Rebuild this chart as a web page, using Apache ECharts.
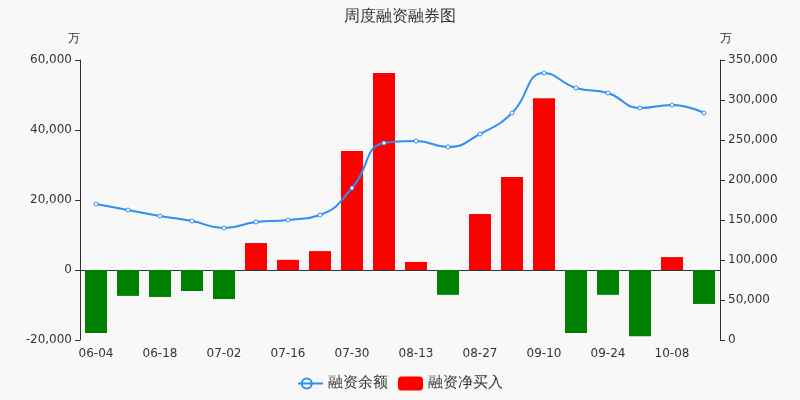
<!DOCTYPE html>
<html><head><meta charset="utf-8">
<script src="https://cdn.jsdelivr.net/npm/echarts@6/dist/echarts.min.js"></script>
<style>html,body{margin:0;background:#f8f8f8}#c{width:800px;height:400px}</style>
</head><body><div id="c"></div>
<script>
const categories=['06-04','06-11','06-18','06-25','07-02','07-09','07-16','07-23','07-30','08-06','08-13','08-20','08-27','09-03','09-10','09-17','09-24','10-01','10-08','10-15'];
const netBuy=[-18000,-7400,-7700,-6000,-8300,7700,2900,5400,34000,56300,2300,-7100,16000,26600,49100,-18000,-7100,-18900,3700,-9700];
const balance=[170000,162500,155000,148750,140000,147500,150000,156250,190000,246250,248750,241250,257500,283750,333750,315000,308750,290000,293750,283750];
const ch=echarts.init(document.getElementById('c'));
const f='"DejaVu Sans",sans-serif';
ch.setOption({
 backgroundColor:'#f8f8f8',
 textStyle:{fontFamily:f},
 title:{text:'周度融资融券图',left:'center',top:4,textStyle:{fontSize:16,fontWeight:'normal',color:'#333',fontFamily:f}},
 legend:{bottom:4,itemGap:10,textStyle:{fontSize:15,color:'#333'},data:[{name:'融资余额',icon:'path://M0,5L3,5A4,4 0 1 1 3,5.01ZM0,5L20,5',itemStyle:{color:'#fff',borderColor:'#2e8ff2'}},{name:'融资净买入',itemStyle:{color:'#f00'}}]},
 grid:{left:80,right:80,top:60,bottom:60},
 xAxis:{type:'category',data:categories,axisTick:{alignWithLabel:true},axisLine:{lineStyle:{color:'#333'}},axisLabel:{interval:1,color:'#333',fontSize:12}},
 yAxis:[{type:'value',name:'万',min:-20000,max:60000,interval:20000,nameTextStyle:{color:'#333',align:'right'},axisLine:{show:true,lineStyle:{color:'#333'}},axisTick:{show:true},splitLine:{show:false},axisLabel:{color:'#333'}},
 {type:'value',name:'万',min:0,max:350000,interval:50000,nameTextStyle:{color:'#333',align:'left'},axisLine:{show:true,lineStyle:{color:'#333'}},axisTick:{show:true},splitLine:{show:false},axisLabel:{color:'#333'}}],
 series:[
 {name:'融资净买入',type:'bar',data:netBuy.map(v=>({value:v,itemStyle:{color:v>=0?'#f00':'#008000'}})),barWidth:22,itemStyle:{color:'#f00'}},
 {name:'融资余额',type:'line',yAxisIndex:1,data:balance,smooth:true,symbol:'circle',symbolSize:4,itemStyle:{color:'#fff',borderColor:'#2e8ff2',borderWidth:1},lineStyle:{color:'#2e8ff2',width:2}}
 ]
});
</script></body></html>
